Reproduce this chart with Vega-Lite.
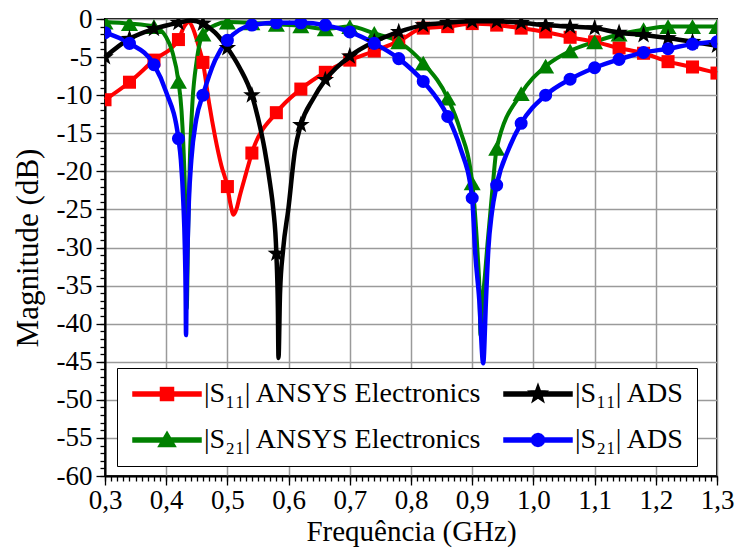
{
  "$schema": "https://vega.github.io/schema/vega-lite/v6.json",
  "width": 612,
  "height": 457,
  "autosize": "none",
  "padding": {"left": 105, "top": 19, "right": 20, "bottom": 74},
  "background": "white",
  "config": {
    "font": "Liberation Serif",
    "view": {"stroke": "black", "strokeWidth": 2},
    "axis": {
      "domainColor": "black",
      "domainWidth": 2,
      "tickColor": "black",
      "tickWidth": 1.3,
      "labelColor": "black",
      "labelFont": "Liberation Serif",
      "titleFont": "Liberation Serif",
      "titleColor": "black",
      "titleFontWeight": "normal",
      "labelOverlap": false,
      "labelFlush": false,
      "grid": true
    }
  },
  "datasets": {
    "curves": [
      {"f": 0.30, "db": -10.6, "s": "|S₁₁| ANSYS Electronics"},
      {"f": 0.34, "db": -8.3, "s": "|S₁₁| ANSYS Electronics"},
      {"f": 0.38, "db": -5.4, "s": "|S₁₁| ANSYS Electronics"},
      {"f": 0.42, "db": -2.7, "s": "|S₁₁| ANSYS Electronics"},
      {"f": 0.43, "db": -0.9, "s": "|S₁₁| ANSYS Electronics"},
      {"f": 0.437, "db": -0.4, "s": "|S₁₁| ANSYS Electronics"},
      {"f": 0.445, "db": -1.5, "s": "|S₁₁| ANSYS Electronics"},
      {"f": 0.452, "db": -3.3, "s": "|S₁₁| ANSYS Electronics"},
      {"f": 0.46, "db": -5.7, "s": "|S₁₁| ANSYS Electronics"},
      {"f": 0.47, "db": -11.0, "s": "|S₁₁| ANSYS Electronics"},
      {"f": 0.48, "db": -15.5, "s": "|S₁₁| ANSYS Electronics"},
      {"f": 0.49, "db": -19.2, "s": "|S₁₁| ANSYS Electronics"},
      {"f": 0.50, "db": -22.0, "s": "|S₁₁| ANSYS Electronics"},
      {"f": 0.505, "db": -24.3, "s": "|S₁₁| ANSYS Electronics"},
      {"f": 0.51, "db": -25.7, "s": "|S₁₁| ANSYS Electronics"},
      {"f": 0.515, "db": -24.9, "s": "|S₁₁| ANSYS Electronics"},
      {"f": 0.52, "db": -23.3, "s": "|S₁₁| ANSYS Electronics"},
      {"f": 0.53, "db": -20.4, "s": "|S₁₁| ANSYS Electronics"},
      {"f": 0.54, "db": -17.6, "s": "|S₁₁| ANSYS Electronics"},
      {"f": 0.58, "db": -12.3, "s": "|S₁₁| ANSYS Electronics"},
      {"f": 0.62, "db": -9.2, "s": "|S₁₁| ANSYS Electronics"},
      {"f": 0.66, "db": -7.0, "s": "|S₁₁| ANSYS Electronics"},
      {"f": 0.70, "db": -5.4, "s": "|S₁₁| ANSYS Electronics"},
      {"f": 0.74, "db": -4.2, "s": "|S₁₁| ANSYS Electronics"},
      {"f": 0.78, "db": -2.9, "s": "|S₁₁| ANSYS Electronics"},
      {"f": 0.82, "db": -1.2, "s": "|S₁₁| ANSYS Electronics"},
      {"f": 0.86, "db": -1.0, "s": "|S₁₁| ANSYS Electronics"},
      {"f": 0.90, "db": -0.6, "s": "|S₁₁| ANSYS Electronics"},
      {"f": 0.94, "db": -0.8, "s": "|S₁₁| ANSYS Electronics"},
      {"f": 0.98, "db": -1.2, "s": "|S₁₁| ANSYS Electronics"},
      {"f": 1.02, "db": -1.7, "s": "|S₁₁| ANSYS Electronics"},
      {"f": 1.06, "db": -2.4, "s": "|S₁₁| ANSYS Electronics"},
      {"f": 1.10, "db": -3.0, "s": "|S₁₁| ANSYS Electronics"},
      {"f": 1.14, "db": -3.8, "s": "|S₁₁| ANSYS Electronics"},
      {"f": 1.18, "db": -4.5, "s": "|S₁₁| ANSYS Electronics"},
      {"f": 1.22, "db": -5.6, "s": "|S₁₁| ANSYS Electronics"},
      {"f": 1.26, "db": -6.3, "s": "|S₁₁| ANSYS Electronics"},
      {"f": 1.30, "db": -7.1, "s": "|S₁₁| ANSYS Electronics"},

      {"f": 0.30, "db": -0.4, "s": "|S₂₁| ANSYS Electronics"},
      {"f": 0.34, "db": -0.6, "s": "|S₂₁| ANSYS Electronics"},
      {"f": 0.38, "db": -1.0, "s": "|S₂₁| ANSYS Electronics"},
      {"f": 0.40, "db": -2.4, "s": "|S₂₁| ANSYS Electronics"},
      {"f": 0.41, "db": -4.3, "s": "|S₂₁| ANSYS Electronics"},
      {"f": 0.42, "db": -8.2, "s": "|S₂₁| ANSYS Electronics"},
      {"f": 0.425, "db": -12.0, "s": "|S₂₁| ANSYS Electronics"},
      {"f": 0.428, "db": -16.5, "s": "|S₂₁| ANSYS Electronics"},
      {"f": 0.431, "db": -24.0, "s": "|S₂₁| ANSYS Electronics"},
      {"f": 0.4335, "db": -38.0, "s": "|S₂₁| ANSYS Electronics"},
      {"f": 0.436, "db": -27.0, "s": "|S₂₁| ANSYS Electronics"},
      {"f": 0.439, "db": -17.5, "s": "|S₂₁| ANSYS Electronics"},
      {"f": 0.443, "db": -10.8, "s": "|S₂₁| ANSYS Electronics"},
      {"f": 0.45, "db": -5.4, "s": "|S₂₁| ANSYS Electronics"},
      {"f": 0.46, "db": -2.0, "s": "|S₂₁| ANSYS Electronics"},
      {"f": 0.48, "db": -0.8, "s": "|S₂₁| ANSYS Electronics"},
      {"f": 0.50, "db": -0.4, "s": "|S₂₁| ANSYS Electronics"},
      {"f": 0.54, "db": -0.5, "s": "|S₂₁| ANSYS Electronics"},
      {"f": 0.58, "db": -0.7, "s": "|S₂₁| ANSYS Electronics"},
      {"f": 0.62, "db": -0.9, "s": "|S₂₁| ANSYS Electronics"},
      {"f": 0.66, "db": -1.3, "s": "|S₂₁| ANSYS Electronics"},
      {"f": 0.70, "db": -1.0, "s": "|S₂₁| ANSYS Electronics"},
      {"f": 0.74, "db": -1.9, "s": "|S₂₁| ANSYS Electronics"},
      {"f": 0.78, "db": -3.0, "s": "|S₂₁| ANSYS Electronics"},
      {"f": 0.82, "db": -5.8, "s": "|S₂₁| ANSYS Electronics"},
      {"f": 0.86, "db": -10.4, "s": "|S₂₁| ANSYS Electronics"},
      {"f": 0.88, "db": -14.5, "s": "|S₂₁| ANSYS Electronics"},
      {"f": 0.90, "db": -21.5, "s": "|S₂₁| ANSYS Electronics"},
      {"f": 0.905, "db": -26.0, "s": "|S₂₁| ANSYS Electronics"},
      {"f": 0.909, "db": -31.0, "s": "|S₂₁| ANSYS Electronics"},
      {"f": 0.912, "db": -36.0, "s": "|S₂₁| ANSYS Electronics"},
      {"f": 0.9135, "db": -41.5, "s": "|S₂₁| ANSYS Electronics"},
      {"f": 0.917, "db": -37.0, "s": "|S₂₁| ANSYS Electronics"},
      {"f": 0.921, "db": -33.5, "s": "|S₂₁| ANSYS Electronics"},
      {"f": 0.925, "db": -29.5, "s": "|S₂₁| ANSYS Electronics"},
      {"f": 0.929, "db": -26.0, "s": "|S₂₁| ANSYS Electronics"},
      {"f": 0.934, "db": -21.5, "s": "|S₂₁| ANSYS Electronics"},
      {"f": 0.94, "db": -17.0, "s": "|S₂₁| ANSYS Electronics"},
      {"f": 0.98, "db": -9.8, "s": "|S₂₁| ANSYS Electronics"},
      {"f": 1.02, "db": -6.2, "s": "|S₂₁| ANSYS Electronics"},
      {"f": 1.06, "db": -4.2, "s": "|S₂₁| ANSYS Electronics"},
      {"f": 1.10, "db": -3.0, "s": "|S₂₁| ANSYS Electronics"},
      {"f": 1.14, "db": -2.0, "s": "|S₂₁| ANSYS Electronics"},
      {"f": 1.18, "db": -1.4, "s": "|S₂₁| ANSYS Electronics"},
      {"f": 1.22, "db": -1.0, "s": "|S₂₁| ANSYS Electronics"},
      {"f": 1.26, "db": -1.0, "s": "|S₂₁| ANSYS Electronics"},
      {"f": 1.30, "db": -1.0, "s": "|S₂₁| ANSYS Electronics"},

      {"f": 0.30, "db": -5.0, "s": "|S₁₁| ADS"},
      {"f": 0.34, "db": -2.6, "s": "|S₁₁| ADS"},
      {"f": 0.38, "db": -1.3, "s": "|S₁₁| ADS"},
      {"f": 0.42, "db": -0.5, "s": "|S₁₁| ADS"},
      {"f": 0.44, "db": -0.2, "s": "|S₁₁| ADS"},
      {"f": 0.46, "db": -0.6, "s": "|S₁₁| ADS"},
      {"f": 0.48, "db": -1.8, "s": "|S₁₁| ADS"},
      {"f": 0.50, "db": -3.8, "s": "|S₁₁| ADS"},
      {"f": 0.52, "db": -6.4, "s": "|S₁₁| ADS"},
      {"f": 0.54, "db": -10.0, "s": "|S₁₁| ADS"},
      {"f": 0.55, "db": -13.0, "s": "|S₁₁| ADS"},
      {"f": 0.561, "db": -17.2, "s": "|S₁₁| ADS"},
      {"f": 0.57, "db": -21.8, "s": "|S₁₁| ADS"},
      {"f": 0.575, "db": -25.0, "s": "|S₁₁| ADS"},
      {"f": 0.58, "db": -30.8, "s": "|S₁₁| ADS"},
      {"f": 0.5825, "db": -38.0, "s": "|S₁₁| ADS"},
      {"f": 0.5835, "db": -44.5, "s": "|S₁₁| ADS"},
      {"f": 0.586, "db": -36.0, "s": "|S₁₁| ADS"},
      {"f": 0.591, "db": -30.3, "s": "|S₁₁| ADS"},
      {"f": 0.5995, "db": -25.0, "s": "|S₁₁| ADS"},
      {"f": 0.6105, "db": -17.2, "s": "|S₁₁| ADS"},
      {"f": 0.62, "db": -13.9, "s": "|S₁₁| ADS"},
      {"f": 0.64, "db": -10.5, "s": "|S₁₁| ADS"},
      {"f": 0.66, "db": -8.0, "s": "|S₁₁| ADS"},
      {"f": 0.70, "db": -4.9, "s": "|S₁₁| ADS"},
      {"f": 0.74, "db": -3.0, "s": "|S₁₁| ADS"},
      {"f": 0.78, "db": -1.7, "s": "|S₁₁| ADS"},
      {"f": 0.82, "db": -0.8, "s": "|S₁₁| ADS"},
      {"f": 0.86, "db": -0.5, "s": "|S₁₁| ADS"},
      {"f": 0.90, "db": -0.3, "s": "|S₁₁| ADS"},
      {"f": 0.94, "db": -0.3, "s": "|S₁₁| ADS"},
      {"f": 0.98, "db": -0.5, "s": "|S₁₁| ADS"},
      {"f": 1.02, "db": -0.8, "s": "|S₁₁| ADS"},
      {"f": 1.06, "db": -1.0, "s": "|S₁₁| ADS"},
      {"f": 1.10, "db": -1.2, "s": "|S₁₁| ADS"},
      {"f": 1.14, "db": -1.8, "s": "|S₁₁| ADS"},
      {"f": 1.18, "db": -2.1, "s": "|S₁₁| ADS"},
      {"f": 1.22, "db": -2.5, "s": "|S₁₁| ADS"},
      {"f": 1.26, "db": -3.0, "s": "|S₁₁| ADS"},
      {"f": 1.30, "db": -3.5, "s": "|S₁₁| ADS"},

      {"f": 0.30, "db": -1.8, "s": "|S₂₁| ADS"},
      {"f": 0.34, "db": -3.2, "s": "|S₂₁| ADS"},
      {"f": 0.38, "db": -6.0, "s": "|S₂₁| ADS"},
      {"f": 0.40, "db": -9.6, "s": "|S₂₁| ADS"},
      {"f": 0.42, "db": -15.7, "s": "|S₂₁| ADS"},
      {"f": 0.424, "db": -18.5, "s": "|S₂₁| ADS"},
      {"f": 0.428, "db": -24.0, "s": "|S₂₁| ADS"},
      {"f": 0.4305, "db": -30.0, "s": "|S₂₁| ADS"},
      {"f": 0.4318, "db": -36.0, "s": "|S₂₁| ADS"},
      {"f": 0.4324, "db": -41.5, "s": "|S₂₁| ADS"},
      {"f": 0.4332, "db": -36.0, "s": "|S₂₁| ADS"},
      {"f": 0.4348, "db": -30.0, "s": "|S₂₁| ADS"},
      {"f": 0.437, "db": -24.0, "s": "|S₂₁| ADS"},
      {"f": 0.441, "db": -18.5, "s": "|S₂₁| ADS"},
      {"f": 0.449, "db": -13.2, "s": "|S₂₁| ADS"},
      {"f": 0.46, "db": -10.0, "s": "|S₂₁| ADS"},
      {"f": 0.48, "db": -5.4, "s": "|S₂₁| ADS"},
      {"f": 0.50, "db": -2.8, "s": "|S₂₁| ADS"},
      {"f": 0.54, "db": -0.8, "s": "|S₂₁| ADS"},
      {"f": 0.58, "db": -0.5, "s": "|S₂₁| ADS"},
      {"f": 0.62, "db": -0.5, "s": "|S₂₁| ADS"},
      {"f": 0.66, "db": -0.8, "s": "|S₂₁| ADS"},
      {"f": 0.70, "db": -1.7, "s": "|S₂₁| ADS"},
      {"f": 0.74, "db": -3.2, "s": "|S₂₁| ADS"},
      {"f": 0.78, "db": -5.2, "s": "|S₂₁| ADS"},
      {"f": 0.82, "db": -8.2, "s": "|S₂₁| ADS"},
      {"f": 0.86, "db": -12.8, "s": "|S₂₁| ADS"},
      {"f": 0.88, "db": -16.8, "s": "|S₂₁| ADS"},
      {"f": 0.90, "db": -23.5, "s": "|S₂₁| ADS"},
      {"f": 0.9046, "db": -30.3, "s": "|S₂₁| ADS"},
      {"f": 0.9116, "db": -36.9, "s": "|S₂₁| ADS"},
      {"f": 0.918, "db": -45.2, "s": "|S₂₁| ADS"},
      {"f": 0.9225, "db": -36.9, "s": "|S₂₁| ADS"},
      {"f": 0.9263, "db": -30.3, "s": "|S₂₁| ADS"},
      {"f": 0.932, "db": -25.5, "s": "|S₂₁| ADS"},
      {"f": 0.94, "db": -21.8, "s": "|S₂₁| ADS"},
      {"f": 0.96, "db": -17.0, "s": "|S₂₁| ADS"},
      {"f": 0.98, "db": -13.7, "s": "|S₂₁| ADS"},
      {"f": 1.02, "db": -10.0, "s": "|S₂₁| ADS"},
      {"f": 1.06, "db": -7.9, "s": "|S₂₁| ADS"},
      {"f": 1.10, "db": -6.4, "s": "|S₂₁| ADS"},
      {"f": 1.14, "db": -5.3, "s": "|S₂₁| ADS"},
      {"f": 1.18, "db": -4.4, "s": "|S₂₁| ADS"},
      {"f": 1.22, "db": -3.9, "s": "|S₂₁| ADS"},
      {"f": 1.26, "db": -3.3, "s": "|S₂₁| ADS"},
      {"f": 1.30, "db": -3.0, "s": "|S₂₁| ADS"}
    ],
    "markers": [
      {"f": 0.30, "db": -10.6, "s": "|S₁₁| ANSYS Electronics"},
      {"f": 0.34, "db": -8.3, "s": "|S₁₁| ANSYS Electronics"},
      {"f": 0.38, "db": -5.4, "s": "|S₁₁| ANSYS Electronics"},
      {"f": 0.42, "db": -2.7, "s": "|S₁₁| ANSYS Electronics"},
      {"f": 0.46, "db": -5.7, "s": "|S₁₁| ANSYS Electronics"},
      {"f": 0.50, "db": -22.0, "s": "|S₁₁| ANSYS Electronics"},
      {"f": 0.54, "db": -17.6, "s": "|S₁₁| ANSYS Electronics"},
      {"f": 0.58, "db": -12.3, "s": "|S₁₁| ANSYS Electronics"},
      {"f": 0.62, "db": -9.2, "s": "|S₁₁| ANSYS Electronics"},
      {"f": 0.66, "db": -7.0, "s": "|S₁₁| ANSYS Electronics"},
      {"f": 0.70, "db": -5.4, "s": "|S₁₁| ANSYS Electronics"},
      {"f": 0.74, "db": -4.2, "s": "|S₁₁| ANSYS Electronics"},
      {"f": 0.78, "db": -2.9, "s": "|S₁₁| ANSYS Electronics"},
      {"f": 0.82, "db": -1.2, "s": "|S₁₁| ANSYS Electronics"},
      {"f": 0.86, "db": -1.0, "s": "|S₁₁| ANSYS Electronics"},
      {"f": 0.90, "db": -0.6, "s": "|S₁₁| ANSYS Electronics"},
      {"f": 0.94, "db": -0.8, "s": "|S₁₁| ANSYS Electronics"},
      {"f": 0.98, "db": -1.2, "s": "|S₁₁| ANSYS Electronics"},
      {"f": 1.02, "db": -1.7, "s": "|S₁₁| ANSYS Electronics"},
      {"f": 1.06, "db": -2.4, "s": "|S₁₁| ANSYS Electronics"},
      {"f": 1.10, "db": -3.0, "s": "|S₁₁| ANSYS Electronics"},
      {"f": 1.14, "db": -3.8, "s": "|S₁₁| ANSYS Electronics"},
      {"f": 1.18, "db": -4.5, "s": "|S₁₁| ANSYS Electronics"},
      {"f": 1.22, "db": -5.6, "s": "|S₁₁| ANSYS Electronics"},
      {"f": 1.26, "db": -6.3, "s": "|S₁₁| ANSYS Electronics"},
      {"f": 1.30, "db": -7.1, "s": "|S₁₁| ANSYS Electronics"},

      {"f": 0.30, "db": -0.4, "s": "|S₂₁| ANSYS Electronics"},
      {"f": 0.34, "db": -0.6, "s": "|S₂₁| ANSYS Electronics"},
      {"f": 0.38, "db": -1.0, "s": "|S₂₁| ANSYS Electronics"},
      {"f": 0.42, "db": -8.2, "s": "|S₂₁| ANSYS Electronics"},
      {"f": 0.46, "db": -2.0, "s": "|S₂₁| ANSYS Electronics"},
      {"f": 0.50, "db": -0.4, "s": "|S₂₁| ANSYS Electronics"},
      {"f": 0.54, "db": -0.5, "s": "|S₂₁| ANSYS Electronics"},
      {"f": 0.58, "db": -0.7, "s": "|S₂₁| ANSYS Electronics"},
      {"f": 0.62, "db": -0.9, "s": "|S₂₁| ANSYS Electronics"},
      {"f": 0.66, "db": -1.3, "s": "|S₂₁| ANSYS Electronics"},
      {"f": 0.70, "db": -1.0, "s": "|S₂₁| ANSYS Electronics"},
      {"f": 0.74, "db": -1.9, "s": "|S₂₁| ANSYS Electronics"},
      {"f": 0.78, "db": -3.0, "s": "|S₂₁| ANSYS Electronics"},
      {"f": 0.82, "db": -5.8, "s": "|S₂₁| ANSYS Electronics"},
      {"f": 0.86, "db": -10.4, "s": "|S₂₁| ANSYS Electronics"},
      {"f": 0.90, "db": -21.5, "s": "|S₂₁| ANSYS Electronics"},
      {"f": 0.94, "db": -17.0, "s": "|S₂₁| ANSYS Electronics"},
      {"f": 0.98, "db": -9.8, "s": "|S₂₁| ANSYS Electronics"},
      {"f": 1.02, "db": -6.2, "s": "|S₂₁| ANSYS Electronics"},
      {"f": 1.06, "db": -4.2, "s": "|S₂₁| ANSYS Electronics"},
      {"f": 1.10, "db": -3.0, "s": "|S₂₁| ANSYS Electronics"},
      {"f": 1.14, "db": -2.0, "s": "|S₂₁| ANSYS Electronics"},
      {"f": 1.18, "db": -1.4, "s": "|S₂₁| ANSYS Electronics"},
      {"f": 1.22, "db": -1.0, "s": "|S₂₁| ANSYS Electronics"},
      {"f": 1.26, "db": -1.0, "s": "|S₂₁| ANSYS Electronics"},
      {"f": 1.30, "db": -1.0, "s": "|S₂₁| ANSYS Electronics"},

      {"f": 0.30, "db": -5.0, "s": "|S₁₁| ADS"},
      {"f": 0.34, "db": -2.6, "s": "|S₁₁| ADS"},
      {"f": 0.38, "db": -1.3, "s": "|S₁₁| ADS"},
      {"f": 0.42, "db": -0.5, "s": "|S₁₁| ADS"},
      {"f": 0.46, "db": -0.6, "s": "|S₁₁| ADS"},
      {"f": 0.50, "db": -3.8, "s": "|S₁₁| ADS"},
      {"f": 0.54, "db": -10.0, "s": "|S₁₁| ADS"},
      {"f": 0.58, "db": -30.8, "s": "|S₁₁| ADS"},
      {"f": 0.62, "db": -13.9, "s": "|S₁₁| ADS"},
      {"f": 0.66, "db": -8.0, "s": "|S₁₁| ADS"},
      {"f": 0.70, "db": -4.9, "s": "|S₁₁| ADS"},
      {"f": 0.74, "db": -3.0, "s": "|S₁₁| ADS"},
      {"f": 0.78, "db": -1.7, "s": "|S₁₁| ADS"},
      {"f": 0.82, "db": -0.8, "s": "|S₁₁| ADS"},
      {"f": 0.86, "db": -0.5, "s": "|S₁₁| ADS"},
      {"f": 0.90, "db": -0.3, "s": "|S₁₁| ADS"},
      {"f": 0.94, "db": -0.3, "s": "|S₁₁| ADS"},
      {"f": 0.98, "db": -0.5, "s": "|S₁₁| ADS"},
      {"f": 1.02, "db": -0.8, "s": "|S₁₁| ADS"},
      {"f": 1.06, "db": -1.0, "s": "|S₁₁| ADS"},
      {"f": 1.10, "db": -1.2, "s": "|S₁₁| ADS"},
      {"f": 1.14, "db": -1.8, "s": "|S₁₁| ADS"},
      {"f": 1.18, "db": -2.1, "s": "|S₁₁| ADS"},
      {"f": 1.22, "db": -2.5, "s": "|S₁₁| ADS"},
      {"f": 1.26, "db": -3.0, "s": "|S₁₁| ADS"},
      {"f": 1.30, "db": -3.5, "s": "|S₁₁| ADS"},

      {"f": 0.30, "db": -1.8, "s": "|S₂₁| ADS"},
      {"f": 0.34, "db": -3.2, "s": "|S₂₁| ADS"},
      {"f": 0.38, "db": -6.0, "s": "|S₂₁| ADS"},
      {"f": 0.42, "db": -15.7, "s": "|S₂₁| ADS"},
      {"f": 0.46, "db": -10.0, "s": "|S₂₁| ADS"},
      {"f": 0.50, "db": -2.8, "s": "|S₂₁| ADS"},
      {"f": 0.54, "db": -0.8, "s": "|S₂₁| ADS"},
      {"f": 0.58, "db": -0.5, "s": "|S₂₁| ADS"},
      {"f": 0.62, "db": -0.5, "s": "|S₂₁| ADS"},
      {"f": 0.66, "db": -0.8, "s": "|S₂₁| ADS"},
      {"f": 0.70, "db": -1.7, "s": "|S₂₁| ADS"},
      {"f": 0.74, "db": -3.2, "s": "|S₂₁| ADS"},
      {"f": 0.78, "db": -5.2, "s": "|S₂₁| ADS"},
      {"f": 0.82, "db": -8.2, "s": "|S₂₁| ADS"},
      {"f": 0.86, "db": -12.8, "s": "|S₂₁| ADS"},
      {"f": 0.90, "db": -23.5, "s": "|S₂₁| ADS"},
      {"f": 0.94, "db": -21.8, "s": "|S₂₁| ADS"},
      {"f": 0.98, "db": -13.7, "s": "|S₂₁| ADS"},
      {"f": 1.02, "db": -10.0, "s": "|S₂₁| ADS"},
      {"f": 1.06, "db": -7.9, "s": "|S₂₁| ADS"},
      {"f": 1.10, "db": -6.4, "s": "|S₂₁| ADS"},
      {"f": 1.14, "db": -5.3, "s": "|S₂₁| ADS"},
      {"f": 1.18, "db": -4.4, "s": "|S₂₁| ADS"},
      {"f": 1.22, "db": -3.9, "s": "|S₂₁| ADS"},
      {"f": 1.26, "db": -3.3, "s": "|S₂₁| ADS"},
      {"f": 1.30, "db": -3.0, "s": "|S₂₁| ADS"}
    ]
  },
  "layer": [
    {
      "data": {"name": "curves"},
      "transform": [{"filter": "datum.s == '|S₁₁| ANSYS Electronics' || datum.s == '|S₂₁| ANSYS Electronics'"}],
      "mark": {"type": "line", "interpolate": "monotone", "strokeWidth": 4},
      "encoding": {
        "x": {
          "field": "f", "type": "quantitative",
          "scale": {"domain": [0.3, 1.3], "nice": false, "zero": false},
          "axis": {
            "orient": "bottom",
            "title": "Frequência (GHz)",
            "titleFont": "Liberation Serif",
            "labelFont": "Liberation Serif",
            "titleFontSize": 29,
            "titlePadding": 4,
            "labelFontSize": 27,
            "labelPadding": 2,
            "tickCount": 10,
            "tickSize": 9,
            "labelExpr": "replace(format(datum.value, '.1f'), '.', ',')",
            "gridColor": "#9a9a9a",
            "gridWidth": 1.5
          }
        },
        "y": {
          "field": "db", "type": "quantitative",
          "scale": {"domain": [-60, 0], "nice": false, "zero": false},
          "axis": {
            "orient": "left",
            "title": "Magnitude (dB)",
            "titleFont": "Liberation Serif",
            "labelFont": "Liberation Serif",
            "titleFontSize": 31,
            "titlePadding": 12,
            "labelFontSize": 27,
            "labelPadding": 4,
            "tickCount": 12,
            "tickSize": 9,
            "labelExpr": "toString(datum.value)",
            "gridColor": "#9a9a9a",
            "gridWidth": 1.5
          }
        },
        "color": {
          "field": "s", "type": "nominal",
          "scale": {
            "domain": ["|S₁₁| ANSYS Electronics", "|S₂₁| ANSYS Electronics", "|S₁₁| ADS", "|S₂₁| ADS"],
            "range": ["#ff0000", "#008000", "#000000", "#0000ff"]
          },
          "legend": {
            "orient": "none", "legendX": 12, "legendY": 349, "title": null,
            "direction": "vertical", "columns": 2, "columnPadding": 17,
            "symbolSize": 400, "symbolOffset": 24, "labelOffset": 23, "symbolStrokeWidth": 1.5,
            "rowPadding": 18, "padding": 12,
            "labelFont": "Liberation Serif", "labelFontSize": 28, "labelColor": "black", "labelLimit": 600,
            "strokeColor": "black", "fillColor": "white", "cornerRadius": 0
          }
        }
      }
    },
    {
      "data": {"name": "markers"},
      "transform": [{"filter": "datum.s == '|S₁₁| ANSYS Electronics'"}],
      "mark": {"type": "point", "filled": true, "opacity": 1, "clip": true, "size": 170, "shape": "square"},
      "encoding": {
        "x": {
          "field": "f", "type": "quantitative",
          "axis": {
            "orient": "bottom",
            "title": null,
            "labels": false,
            "domain": false,
            "tickCount": 100,
            "tickSize": 5,
            "gridColor": "#c8c8c8",
            "gridDash": [1, 2],
            "gridWidth": 1,
            "gridOpacity": {"condition": {"test": "abs(datum.value*10 - round(datum.value*10)) < 0.001", "value": 0}, "value": 1}
          }
        },
        "y": {
          "field": "db", "type": "quantitative",
          "axis": {
            "orient": "left",
            "title": null,
            "labels": false,
            "domain": false,
            "tickCount": 60,
            "tickSize": 5,
            "gridColor": "#c8c8c8",
            "gridDash": [1, 2],
            "gridWidth": 1,
            "gridOpacity": {"condition": {"test": "datum.value % 5 == 0", "value": 0}, "value": 1}
          }
        },
        "color": {"field": "s", "type": "nominal"}
      }
    },
    {
      "data": {"name": "markers"},
      "transform": [{"filter": "datum.s == '|S₂₁| ANSYS Electronics'"}],
      "mark": {"type": "point", "filled": true, "opacity": 1, "clip": true, "size": 290, "shape": "triangle-up"},
      "encoding": {
        "x": {"field": "f", "type": "quantitative", "axis": null},
        "y": {"field": "db", "type": "quantitative", "axis": null},
        "color": {"field": "s", "type": "nominal"}
      }
    },
    {
      "data": {"name": "curves"},
      "transform": [{"filter": "datum.s == '|S₁₁| ADS' || datum.s == '|S₂₁| ADS'"}],
      "mark": {"type": "line", "interpolate": "monotone", "strokeWidth": 4.5},
      "encoding": {
        "x": {"field": "f", "type": "quantitative", "axis": null},
        "y": {"field": "db", "type": "quantitative", "axis": null},
        "color": {"field": "s", "type": "nominal"}
      }
    },
    {
      "data": {"name": "markers"},
      "transform": [{"filter": "datum.s == '|S₁₁| ADS'"}],
      "mark": {"type": "point", "filled": true, "opacity": 1, "clip": true, "size": 340, "shape": "M0,-1L0.235,-0.324L0.951,-0.309L0.38,0.124L0.588,0.809L0,0.4L-0.588,0.809L-0.38,0.124L-0.951,-0.309L-0.235,-0.324Z"},
      "encoding": {
        "x": {"field": "f", "type": "quantitative", "axis": null},
        "y": {"field": "db", "type": "quantitative", "axis": null},
        "color": {"field": "s", "type": "nominal"}
      }
    },
    {
      "data": {"name": "markers"},
      "transform": [{"filter": "datum.s == '|S₂₁| ADS'"}],
      "mark": {"type": "point", "filled": true, "opacity": 1, "clip": true, "size": 170, "shape": "circle"},
      "encoding": {
        "x": {"field": "f", "type": "quantitative", "axis": null},
        "y": {"field": "db", "type": "quantitative", "axis": null},
        "color": {"field": "s", "type": "nominal"}
      }
    },
    {
      "data": {"name": "markers"},
      "transform": [{"filter": "datum.s == 'none'"}],
      "mark": {"type": "point", "filled": true, "opacity": 1},
      "encoding": {
        "x": {"field": "f", "type": "quantitative", "axis": null},
        "y": {"field": "db", "type": "quantitative", "axis": null},
        "color": {"field": "s", "type": "nominal"},
        "shape": {
          "field": "s", "type": "nominal",
          "scale": {
            "domain": ["|S₁₁| ANSYS Electronics", "|S₂₁| ANSYS Electronics", "|S₁₁| ADS", "|S₂₁| ADS"],
            "range": [
              "M-3.4,-0.2H3.4V0.2H-3.4Z M-0.65,-0.65H0.65V0.65H-0.65Z",
              "M-3.4,-0.2H3.4V0.2H-3.4Z M0,-0.8L0.85,0.65L-0.85,0.65Z",
              "M-3.4,-0.2H3.4V0.2H-3.4Z M0,-0.95L0.23,-0.32L0.9,-0.29L0.37,0.12L0.56,0.77L0,0.39L-0.56,0.77L-0.37,0.12L-0.9,-0.29L-0.23,-0.32Z",
              "M-3.4,-0.2H3.4V0.2H-3.4Z M0,-0.65L0.325,-0.563L0.563,-0.325L0.65,0L0.563,0.325L0.325,0.563L0,0.65L-0.325,0.563L-0.563,0.325L-0.65,0L-0.563,-0.325L-0.325,-0.563Z"
            ]
          },
          "legend": {
            "orient": "none", "legendX": 12, "legendY": 349, "title": null,
            "direction": "vertical", "columns": 2, "columnPadding": 17,
            "symbolSize": 400, "symbolOffset": 24, "labelOffset": 23, "symbolStrokeWidth": 1.5,
            "rowPadding": 18, "padding": 12,
            "labelFont": "Liberation Serif", "labelFontSize": 28, "labelColor": "black", "labelLimit": 600,
            "strokeColor": "black", "fillColor": "white", "cornerRadius": 0
          }
        }
      }
    }
  ],
  "resolve": {
    "axis": {"x": "independent", "y": "independent"}
  }
}
